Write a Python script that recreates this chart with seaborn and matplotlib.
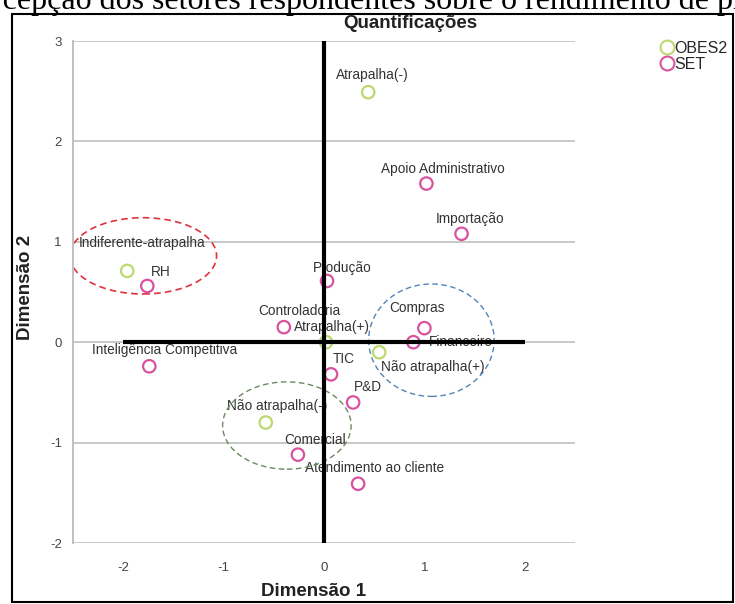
import matplotlib
matplotlib.use("Agg")
import matplotlib.pyplot as plt
from matplotlib.patches import Ellipse, Rectangle
from matplotlib.lines import Line2D
import seaborn as sns
import pandas as pd

# Category quantifications (dimension 1, dimension 2)
obes2_cats = ["Atrapalha(-)", "Indiferente-atrapalha", "Atrapalha(+)",
              "Não atrapalha(+)", "Não atrapalha(-)"]
obes2_dim1 = [0.44, -1.96, 0.02, 0.55, -0.58]
obes2_dim2 = [2.49, 0.71, 0.00, -0.10, -0.80]

set_cats = ["Apoio Administrativo", "Importação", "RH", "Produção",
            "Controladoria", "Compras", "Financeiro",
            "Inteligência Competitiva", "TIC", "P&D", "Comercial",
            "Atendimento ao cliente"]
set_dim1 = [1.02, 1.37, -1.76, 0.03, -0.40, 1.00, 0.89, -1.74, 0.07, 0.29, -0.26, 0.34]
set_dim2 = [1.58, 1.08, 0.56, 0.61, 0.15, 0.14, 0.00, -0.24, -0.32, -0.60, -1.12, -1.41]

group_names = ["OBES2", "SET"]
tick_values = [-2, -1, 0, 1, 2, 3]

df = pd.DataFrame({
    "cat": obes2_cats + set_cats,
    "Dimensão 1": obes2_dim1 + set_dim1,
    "Dimensão 2": obes2_dim2 + set_dim2,
    "grupo": [group_names[0]] * len(obes2_cats) + [group_names[1]] * len(set_cats),
})

palette = {"OBES2": "#bcd870", "SET": "#d9529e"}

# label placement (pixel offsets of label centre from its point)
label_offsets = {
    "Atrapalha(-)": (4, 17), "Apoio Administrativo": (16, 15),
    "Importação": (9, 15), "Indiferente-atrapalha": (15, 28),
    "RH": (13, 14), "Produção": (15, 13), "Controladoria": (16, 16),
    "Atrapalha(+)": (6, 15), "Compras": (-7, 20), "Financeiro": (48, 0),
    "Não atrapalha(+)": (54, -15), "Inteligência Competitiva": (15, 16),
    "TIC": (13, 15), "P&D": (15, 15), "Não atrapalha(-)": (11, 17),
    "Comercial": (17, 15), "Atendimento ao cliente": (16, 16),
}

sns.set_theme(style="white")
plt.rcParams["font.family"] = ["Liberation Sans", "DejaVu Sans"]

W, H = 735, 604
fig = plt.figure(figsize=(W / 100, H / 100), dpi=100)
ax = fig.add_axes([73 / W, 1 - 543 / H, 502 / W, 502 / H])

sns.scatterplot(data=df, x="Dimensão 1", y="Dimensão 2", hue="grupo",
                palette=palette, s=80, linewidth=1.6, legend=False,
                ax=ax, zorder=3)
for coll in ax.collections:
    fc = coll.get_facecolors()
    coll.set_edgecolors(fc)
    coll.set_facecolors("none")

for _, row in df.iterrows():
    dx, dy = label_offsets[row["cat"]]
    ax.annotate(row["cat"], (row["Dimensão 1"], row["Dimensão 2"]),
                xytext=(dx, dy), textcoords="offset pixels",
                ha="center", va="center", fontsize=9.8, color="#333333",
                zorder=2)

# grouping ellipses
ax.add_patch(Ellipse((-1.80, 0.86), 1.46, 0.76, fill=False, ec="#e0323c",
                     ls=(0, (4, 2.5)), lw=1.2, zorder=2))
ax.add_patch(Ellipse((1.07, 0.02), 1.25, 1.12, fill=False, ec="#4f85bb",
                     ls=(0, (4, 2.5)), lw=1.0, zorder=2))
ax.add_patch(Ellipse((-0.37, -0.83), 1.28, 0.87, fill=False, ec="#6a8a60",
                     ls=(0, (4, 2.5)), lw=1.0, zorder=2))

# reference axes through the origin
ax.axvline(0, color="black", lw=3, zorder=5)
ax.plot([-2, 2], [0, 0], color="black", lw=3, zorder=5, solid_capstyle="butt")

ax.set_xlim(-2.5, 2.5)
ax.set_ylim(-2, 3)
ax.set_xticks(tick_values[:-1])
ax.set_yticks(tick_values)
ax.set_xticklabels([str(v) for v in tick_values[:-1]])
ax.set_yticklabels([str(v) for v in tick_values])
ax.tick_params(axis="both", length=0, labelsize=9.5, labelcolor="#444444")
ax.tick_params(axis="x", pad=14)
ax.tick_params(axis="y", pad=8)
ax.yaxis.grid(True, color="#c8c8c8", lw=1.4)
ax.xaxis.grid(False)
for side in ["top", "right", "bottom"]:
    ax.spines[side].set_visible(False)
ax.spines["left"].set_color("#c0c0c0")
ax.spines["left"].set_linewidth(1.4)
ax.set_xlabel("")
ax.set_ylabel("")

fig.text(314 / W, 1 - 591 / H, "Dimensão 1", ha="center", va="center",
         fontsize=13.5, fontweight="bold", color="#222222")
fig.text(25 / W, 1 - 287 / H, "Dimensão 2", ha="center", va="center",
         rotation=90, fontsize=13.5, fontweight="bold", color="#222222")
fig.text(410 / W, 1 - 23 / H, "Quantificações", ha="center", va="center",
         fontsize=13.5, fontweight="bold", color="#222222")

handles = [Line2D([], [], marker="o", ls="", mfc="none", mec=palette[g],
                  ms=10, mew=1.5, label=g) for g in group_names]
fig.legend(handles=handles, loc="upper left", bbox_to_anchor=(662 / W, 1 - 41 / H),
           frameon=False, handlelength=0.6, handletextpad=0.15,
           labelspacing=0.05, fontsize=11.5, borderpad=0, borderaxespad=0)

# caption line above the framed chart
fig.text(-40 / W, 1 - 9 / H,
         "Percepção dos setores respondentes sobre o rendimento de produção",
         ha="left", va="baseline", fontsize=23, color="black",
         family=["Liberation Serif", "DejaVu Serif"])

fig.add_artist(Rectangle((12 / W, 1 - 602 / H), 721 / W, 588 / H,
                         transform=fig.transFigure, fill=False,
                         ec="black", lw=1.5))

fig.savefig("out.png", dpi=100)
